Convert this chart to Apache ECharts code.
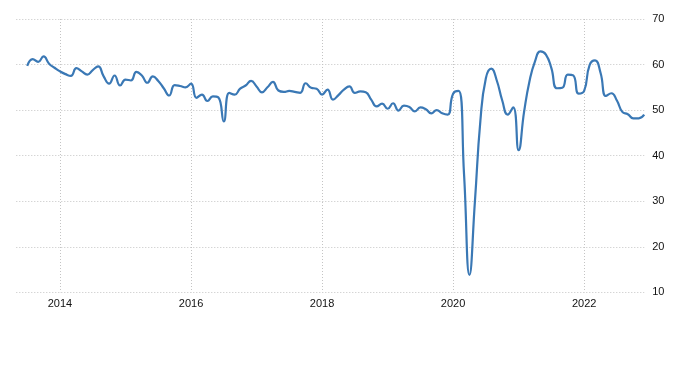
<!DOCTYPE html>
<html>
<head>
<meta charset="utf-8">
<script src="https://cdn.jsdelivr.net/npm/echarts@6/dist/echarts.min.js"></script>
<style>
html,body{margin:0;padding:0;background:#fff;}
#chart{width:700px;height:372px;}
</style>
</head>
<body>
<div id="chart"></div>
<script>
// Monthly values, Jul 2013 .. Dec 2022
var values2013 = [59.7, 61.2, 60.6, 61.8, 60.2, 59.3];
var values2014 = [58.5, 57.9, 57.5, 59.2, 58.5, 57.8, 58.8, 59.6, 57.4, 55.8, 57.6, 55.4];
var values2015 = [56.7, 56.5, 58.4, 57.6, 56.0, 57.4, 56.4, 54.8, 53.2, 55.5, 55.3, 55.0];
var values2016 = [55.8, 52.7, 53.4, 52.0, 53.0, 52.8, 47.5, 53.8, 53.4, 54.7, 55.4, 56.4];
var values2017 = [55.2, 53.9, 55.0, 56.2, 54.3, 54.0, 54.2, 54.0, 53.8, 55.9, 54.9, 54.7];
var values2018 = [53.4, 54.5, 52.3, 53.3, 54.5, 55.2, 53.8, 54.1, 53.9, 52.3, 50.8, 51.4];
var values2019 = [50.3, 51.5, 49.9, 51.0, 50.7, 49.7, 50.6, 50.2, 49.3, 50.0, 49.3, 49.0];
var values2020 = [53.6, 54.2, 36.0, 13.8, 30.0, 47.7, 57.0, 59.1, 56.5, 52.1, 49.0, 50.6];
var values2021 = [41.2, 49.6, 56.4, 60.7, 62.9, 62.2, 59.2, 54.8, 54.9, 57.8, 57.6, 53.6];
var values2022 = [54.2, 59.9, 60.9, 58.2, 53.1, 53.7, 52.1, 49.6, 49.1, 48.2, 48.2, 49.0];

var tickYears = ['2014', '2016', '2018', '2020', '2022'];
var yTicks = [10, 20, 30, 40, 50, 60, 70];

// Categories: monthly from May 2013 to Dec 2022 (axis starts slightly before data)
var categories = [];
(function(){
  var y = 2013, m = 5;
  while (y < 2022 || (y === 2022 && m <= 12)) {
    categories.push(y + '-' + (m < 10 ? '0' + m : m));
    m++; if (m > 12) { m = 1; y++; }
  }
})();

var values = [].concat(values2013, values2014, values2015, values2016, values2017,
  values2018, values2019, values2020, values2021, values2022);
var firstIndex = categories.indexOf('2013-07');
var seriesData = values.map(function(v, i){ return [firstIndex + i, v]; });

function isTick(idx){
  var c = categories[idx];
  if (!c) return false;
  return c.slice(5) === '01' && tickYears.indexOf(c.slice(0,4)) >= 0;
}

var gridColor = '#c4c4c4';
var chart = echarts.init(document.getElementById('chart'), null, {renderer:'canvas'});
chart.setOption({
  animation: false,
  backgroundColor: '#ffffff',
  grid: { left: 16.3, right: 55.8, top: 19, bottom: 79.7, containLabel: false },
  xAxis: {
    type: 'category',
    data: categories,
    boundaryGap: false,
    axisLine: { show: false },
    axisTick: { show: false },
    axisLabel: {
      interval: function(idx){ return isTick(idx); },
      formatter: function(v){ return v.slice(0,4); },
      color: '#111',
      fontSize: 11,
      fontFamily: 'Liberation Sans, Arial, sans-serif',
      margin: 6
    },
    splitLine: {
      show: true,
      interval: function(idx){ return isTick(idx); },
      lineStyle: { color: gridColor, type: [1, 2], width: 1 }
    }
  },
  yAxis: {
    type: 'value',
    position: 'right',
    min: yTicks[0],
    max: yTicks[yTicks.length - 1],
    interval: 10,
    axisLine: { show: false },
    axisTick: { show: false },
    axisLabel: {
      color: '#111',
      fontSize: 11,
      fontFamily: 'Liberation Sans, Arial, sans-serif',
      margin: 8,
      align: 'left'
    },
    splitLine: { show: true, lineStyle: { color: gridColor, type: [1, 2], width: 1 } }
  },
  series: [{
    type: 'line',
    data: seriesData,
    smooth: 0.5,
    showSymbol: false,
    symbol: 'none',
    lineStyle: { color: '#3a78b5', width: 2.2 },
    z: 3
  }]
});
</script>
</body>
</html>
